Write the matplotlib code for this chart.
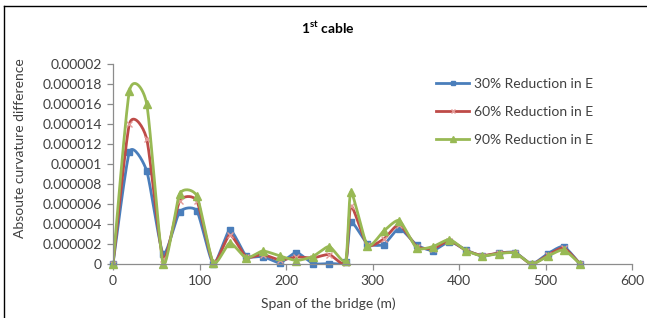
#!/usr/bin/env python
# -*- coding: utf-8 -*-

'''
Absolute curvature difference along the bridge span, 1st cable.
'''

import numpy as np
import matplotlib
matplotlib.use("Agg")
import matplotlib.pyplot as plt
from matplotlib.lines import Line2D

# data (y in units of 1e-6)
span = [0, 19, 39, 58, 77, 97, 116, 135, 154, 173, 193, 212, 231, 250, 269,
        275, 294, 313, 331, 351, 370, 389, 408, 427, 446, 465, 484, 503, 521, 540]
red30 = [0, 11.2, 9.3, 1.0, 5.2, 5.3, 0, 3.4, 0.8, 0.75, 0.13, 1.15, 0.05, 0.05, 0.25,
         4.2, 2.05, 1.95, 3.55, 1.9, 1.35, 2.25, 1.4, 0.8, 1.1, 1.15, 0, 1.05, 1.75, 0]
red60 = [0, 14.0, 12.5, 0.5, 6.3, 6.3, 0.1, 2.9, 0.7, 0.95, 0.4, 0.7, 0.6, 0.95, 0.1,
         5.8, 1.9, 2.5, 3.95, 1.75, 1.55, 2.35, 1.35, 0.85, 1.1, 1.1, 0, 0.9, 1.6, 0]
red90 = [0, 17.3, 16.0, 0, 7.0, 6.8, 0.1, 2.1, 0.6, 1.3, 0.8, 0.35, 0.75, 1.75, 0.35,
         7.2, 1.85, 3.3, 4.35, 1.6, 1.75, 2.45, 1.35, 0.8, 1.05, 1.1, 0, 0.8, 1.4, 0]

seriesNames = ["30% Reduction in E", "60% Reduction in E", "90% Reduction in E"]
xTicks = [0, 100, 200, 300, 400, 500, 600]
yTickLabels = ["0", "0.000002", "0.000004", "0.000006", "0.000008", "0.00001",
               "0.000012", "0.000014", "0.000016", "0.000018", "0.00002"]

plt.rcParams['font.family'] = ['Lato', 'DejaVu Sans']
plt.rcParams['mathtext.fontset'] = 'custom'
plt.rcParams['mathtext.rm'] = 'Lato'
plt.rcParams['mathtext.bf'] = 'Lato:bold'


def smoothCurve(xs, ys, n=20, k=0.1):
    '''
    Bezier smoothing through the points, like a spreadsheet "smoothed line".
    '''
    p = np.column_stack([xs, ys]).astype(float)
    p = np.vstack([p[0], p, p[-1]])
    out = []
    t = np.linspace(0, 1, n, endpoint=False)[:, None]
    for i in range(1, len(p) - 2):
        p0, p1, p2, p3 = p[i - 1], p[i], p[i + 1], p[i + 2]
        c1 = p1 + (p2 - p0) * k
        c2 = p2 - (p3 - p1) * k
        seg = ((1 - t) ** 3) * p1 + 3 * ((1 - t) ** 2) * t * c1 \
            + 3 * (1 - t) * t ** 2 * c2 + t ** 3 * p2
        out.append(seg)
    out.append(p[-2][None, :])
    out = np.vstack(out)
    return out[:, 0], out[:, 1]


def main():
    fig = plt.figure(figsize=(6.47, 3.18), dpi=100)
    ax = fig.add_axes([113 / 647, 1 - 264 / 318, 519 / 647, 200 / 318])

    styles = [
        dict(color='#4A7EBB', marker='s', ms=4.5, mec='#4A7EBB', mew=1),
        dict(color='#BE4B48', marker='x', ms=5, mec='#E39A98', mew=1),
        dict(color='#98B954', marker='^', ms=5.5, mec='#98B954', mew=1),
    ]
    allSeries = [red30, red60, red90]
    handles = []
    for values, st, name in zip(allSeries, styles, seriesNames):
        yv = np.array(values) * 1e-6
        sx, sy = smoothCurve(span, yv)
        ax.plot(sx, sy, color=st['color'], lw=2, solid_capstyle='round')
        ax.plot(span, yv, ls='none', marker=st['marker'], ms=st['ms'],
                mfc=st['color'], mec=st['mec'], mew=st['mew'], clip_on=False)
        handles.append(Line2D([], [], color=st['color'], lw=2, marker=st['marker'],
                              ms=st['ms'] * 0.7, mfc=st['color'], mec=st['mec']))

    ax.set_xlim(0, 600)
    ax.set_ylim(0, 2e-5)
    ax.set_xticks(xTicks)
    ax.set_xticklabels([str(v) for v in xTicks])
    ax.set_yticks(np.arange(len(yTickLabels)) * 2e-6)
    ax.set_yticklabels(yTickLabels)

    for side in ['top', 'right']:
        ax.spines[side].set_visible(False)
    for side in ['left', 'bottom']:
        ax.spines[side].set_color('#8C8C8C')
        ax.spines[side].set_linewidth(0.9)
    ax.tick_params(axis='both', direction='out', length=4, width=0.9,
                   color='#8C8C8C', labelsize=10, labelcolor='#404040', pad=4)

    fig.text(328 / 647, 1 - 28 / 318, r'1$^{\mathbf{st}}$ cable', ha='center',
             va='center', fontsize=10, fontweight='bold', color='black')
    fig.text(328 / 647, 1 - 304 / 318, "Span of the bridge (m)", ha='center',
             va='center', fontsize=10, color='#404040')
    fig.text(20 / 647, 1 - 148 / 318, "Absoute curvature difference", ha='center',
             va='center', fontsize=10, color='#404040', rotation=90)

    fig.legend(handles, seriesNames, loc='upper left', frameon=False,
               bbox_to_anchor=(436 / 647, 1 - 78 / 318), fontsize=10,
               handlelength=2.4, handletextpad=0.3, labelspacing=1.15,
               borderaxespad=0, borderpad=0, labelcolor='#404040')

    # outer frame (left and top edges visible)
    fig.add_artist(Line2D([3.5 / 647, 3.5 / 647], [0, 1 - 6 / 318], color='black', lw=1))
    fig.add_artist(Line2D([3.5 / 647, 1], [1 - 6 / 318, 1 - 6 / 318], color='black', lw=1))

    fig.savefig("out.png", dpi=100)


if (__name__ == "__main__"):
    main()
